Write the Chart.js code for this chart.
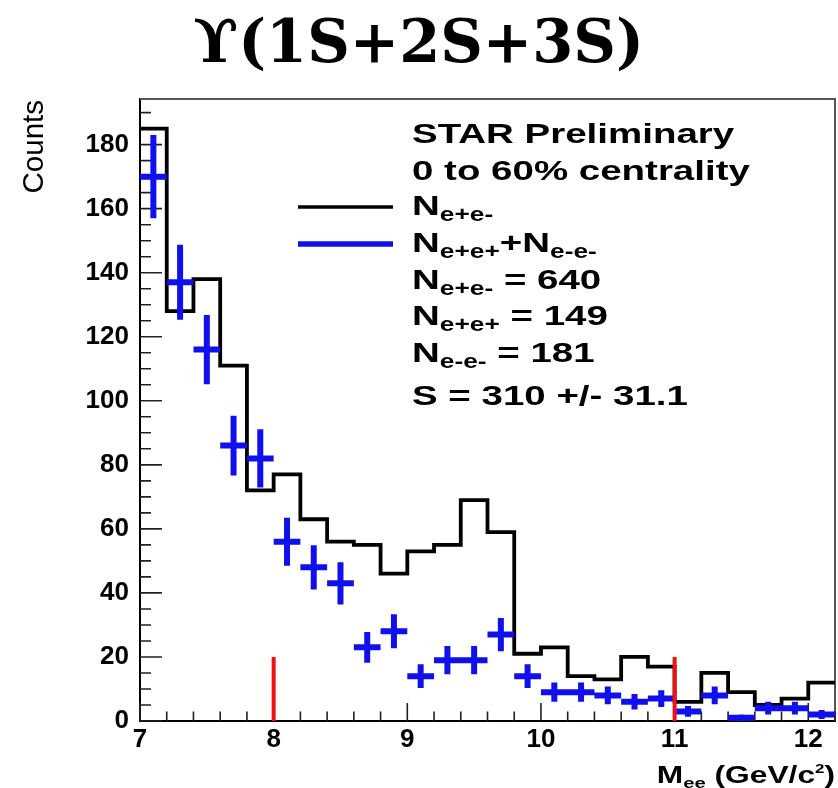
<!DOCTYPE html>
<html><head><meta charset="utf-8">
<script src="https://cdn.jsdelivr.net/npm/chart.js@4"></script>
<style>html,body{margin:0;padding:0;background:#fff;} #c{display:block;}</style>
</head><body>
<canvas id="c" width="838" height="788" style="width:838px;height:788px"></canvas>
<script>
// ---- data ----
const binCenters   = [7.1,7.3,7.5,7.7,7.9,8.1,8.3,8.5,8.7,8.9,9.1,9.3,9.5,9.7,9.9,10.1,10.3,10.5,10.7,10.9,11.1,11.3,11.5,11.7,11.9,12.1];
const unlikeSign   = [185,128,138,111,72,77,63,56,55,46,53,55,69,59,21,23,14,13,20,17,6,15,9,5,7,12];
const likeSign     = [170,137,116,86,82,56,48,43,23,28,14,19,19,27,14,9,9,8,6,7,3,8,1,4,4,2];
const likeSignErr  = [13,11.7,10.8,9.3,9.1,7.5,6.9,6.6,4.8,5.3,3.7,4.4,4.4,5.2,3.7,3,3,2.8,2.4,2.6,1.7,2.8,1,2,2,1.4];
const cutMass      = [8, 11];
const cutHeight    = 20;
const xTickLabels  = [7, 8, 9, 10, 11, 12];
const yTickLabels  = [0, 20, 40, 60, 80, 100, 120, 140, 160, 180];
const binWidth     = 0.2;
const titleText    = 'ϒ(1S+2S+3S)';
const infoLines = [
  [{t:'STAR Preliminary'}],
  [{t:'0 to 60% centrality'}],
  [{t:'N'},{t:'e+e-',s:1}],
  [{t:'N'},{t:'e+e+',s:1},{t:'+N'},{t:'e-e-',s:1}],
  [{t:'N'},{t:'e+e-',s:1},{t:' = 640'}],
  [{t:'N'},{t:'e+e+',s:1},{t:' = 149'}],
  [{t:'N'},{t:'e-e-',s:1},{t:' = 181'}],
  [{t:'S = 310 +/- 31.1'}]
];

// ---- build library datasets ----
const half = binWidth / 2;
const histPoints = binCenters.map((c, i) => ({x: c - half, y: unlikeSign[i]}));
histPoints.push({x: binCenters[binCenters.length - 1] + half, y: unlikeSign[unlikeSign.length - 1]});

const crossPoints = [];
binCenters.forEach((c, i) => {
  const v = likeSign[i], e = likeSignErr[i];
  crossPoints.push({x: c - half, y: v}, {x: c + half, y: v}, {x: c, y: null},
                   {x: c, y: v - e}, {x: c, y: v + e}, {x: c, y: null});
});
const cutPoints = [];
cutMass.forEach((m, i) => {
  if (i) cutPoints.push({x: m, y: null});
  cutPoints.push({x: m, y: 0}, {x: m, y: cutHeight});
});

const FONT = '"Liberation Sans", Arial, sans-serif';
const SX = 1.35; // horizontal stretch of the annotation text

function drawRich(ctx, x, y, segs, size, subSize, subDy, align) {
  ctx.save();
  let total = 0;
  const sizeOf = sg => sg.p ? sg.p : (sg.s ? subSize : size);
  const widths = segs.map(sg => {
    ctx.font = 'bold ' + sizeOf(sg) + 'px ' + FONT;
    const w = ctx.measureText(sg.t).width; total += w; return w;
  });
  ctx.translate(align === 'right' ? x - total * SX : x, y);
  ctx.scale(SX, 1);
  ctx.textAlign = 'left'; ctx.textBaseline = 'alphabetic';
  let cx = 0;
  segs.forEach((sg, i) => {
    ctx.font = 'bold ' + sizeOf(sg) + 'px ' + FONT;
    ctx.fillText(sg.t, cx, sg.s ? subDy : (sg.up ? sg.up : 0));
    cx += widths[i];
  });
  ctx.restore();
}

const decor = {
  id: 'decor',
  beforeDatasetsDraw(chart) {
    const {ctx, chartArea: a, scales: {x, y}} = chart;
    ctx.save();
    ctx.strokeStyle = '#555'; ctx.lineWidth = 2;
    ctx.beginPath();
    ctx.moveTo(a.left, a.top); ctx.lineTo(a.right, a.top); ctx.lineTo(a.right, a.bottom);
    ctx.stroke();
    ctx.strokeStyle = '#222'; ctx.lineWidth = 1.6;
    ctx.beginPath();
    for (let k = 0; k * 5 <= y.max; k++) {
      const py = y.getPixelForValue(k * 5);
      ctx.moveTo(a.left, py); ctx.lineTo(a.left + (k % 4 === 0 ? 22 : 11), py);
    }
    for (let k = 0; x.min + k * binWidth <= x.max + 1e-9; k++) {
      const px = x.getPixelForValue(x.min + k * binWidth);
      ctx.moveTo(px, a.bottom); ctx.lineTo(px, a.bottom - (k % 5 === 0 ? 18 : 9.5));
    }
    ctx.stroke();
    ctx.restore();
  },
  afterDraw(chart) {
    const {ctx} = chart;
    ctx.save();
    ctx.fillStyle = '#000';
    // title
    ctx.font = 'bold 59px "DejaVu Serif", serif';
    ctx.textAlign = 'center'; ctx.textBaseline = 'alphabetic';
    ctx.fillText(titleText, 418.5, 62);
    // y title
    ctx.save();
    ctx.translate(43, 100); ctx.rotate(-Math.PI / 2);
    ctx.font = '29.5px ' + FONT; ctx.textAlign = 'right';
    ctx.fillText('Counts', 0, 0);
    ctx.restore();
    // x title
    drawRich(ctx, 835, 783, [{t:'M'},{t:'ee',s:1},{t:' (GeV/c'},{t:'2',p:12.5,up:-10},{t:')'}], 23.5, 15, 5, 'right');
    // legend lines
    ctx.lineCap = 'butt';
    ctx.strokeStyle = '#000'; ctx.lineWidth = 3.5;
    ctx.beginPath(); ctx.moveTo(298, 207); ctx.lineTo(393, 207); ctx.stroke();
    ctx.strokeStyle = '#1010ee'; ctx.lineWidth = 5.5;
    ctx.beginPath(); ctx.moveTo(298, 244); ctx.lineTo(393, 244); ctx.stroke();
    // info text
    const baselines = [142.5, 180, 215, 251.5, 288.5, 325, 361.5, 405];
    infoLines.forEach((segs, i) => drawRich(ctx, 412, baselines[i], segs, 28.5, 19.5, 6, 'left'));
    ctx.restore();
  }
};

new Chart(document.getElementById('c'), {
  type: 'line',
  data: {
    datasets: [
      {label: 'cut', data: cutPoints, borderColor: '#ee1111', borderWidth: 4, pointRadius: 0, spanGaps: false, fill: false, order: 0},
      {label: 'N e+e+ + N e-e-', data: crossPoints, borderColor: '#1010ee', borderWidth: 6, pointRadius: 0, spanGaps: false, fill: false, borderCapStyle: 'butt', order: 1},
      {label: 'N e+e-', data: histPoints, stepped: true, borderColor: '#000', borderWidth: 3.8, pointRadius: 0, fill: false, borderJoinStyle: 'miter', order: 2}
    ]
  },
  options: {
    responsive: false, animation: false, events: [],
    layout: {padding: {top: 99, right: 3, left: 0, bottom: 0}},
    plugins: {legend: {display: false}, tooltip: {enabled: false}, title: {display: false}},
    scales: {
      x: {
        type: 'linear', min: 7, max: 12.2,
        grid: {display: false, drawTicks: false},
        border: {display: true, color: '#000', width: 2},
        ticks: {font: {family: FONT, size: 26, weight: 'bold'}, color: '#000', padding: 3, maxRotation: 0, autoSkip: false, includeBounds: false},
        afterBuildTicks: s => { s.ticks = xTickLabels.map(v => ({value: v})); },
        afterFit: s => { s.height = 67; }
      },
      y: {
        type: 'linear', min: 0, max: 194.25,
        grid: {display: false, drawTicks: false},
        border: {display: true, color: '#000', width: 2},
        ticks: {font: {family: FONT, size: 26, weight: 'bold'}, color: '#000', padding: 11, includeBounds: false},
        afterBuildTicks: s => { s.ticks = yTickLabels.map(v => ({value: v})); },
        afterFit: s => { s.width = 140; }
      }
    }
  },
  plugins: [decor]
});
</script>
</body></html>
